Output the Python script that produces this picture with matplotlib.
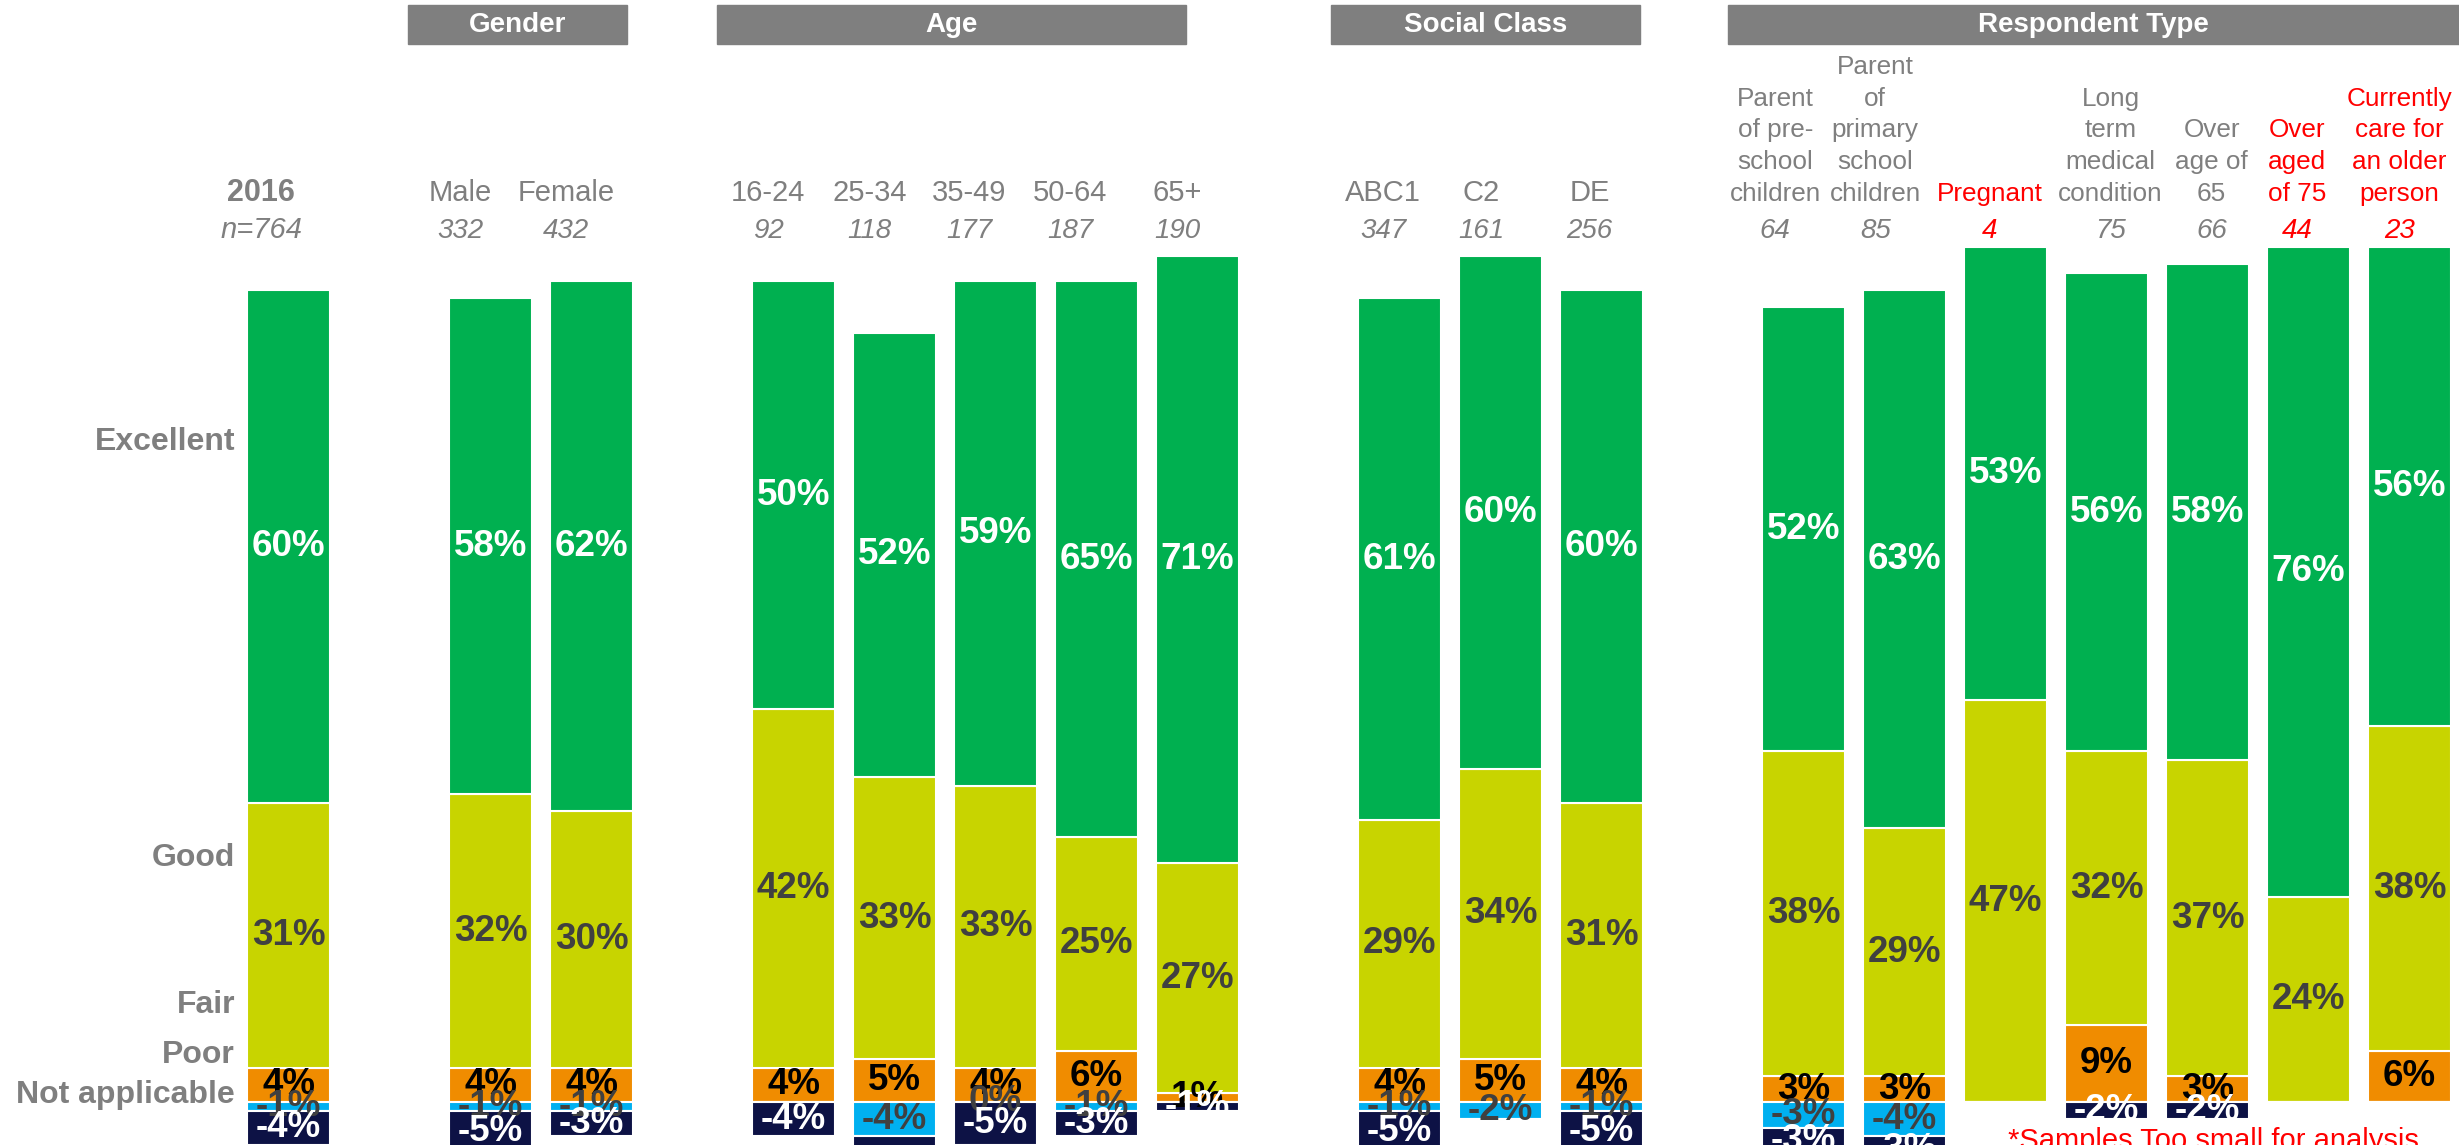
import numpy as np
import matplotlib
matplotlib.use("Agg")
import matplotlib.pyplot as plt

plt.rcParams["font.family"] = ["Liberation Sans", "DejaVu Sans"]

# slot index of each bar (gaps between groups)
positions = [0, 2, 3, 5, 6, 7, 8, 9, 11, 12, 13, 15, 16, 17, 18, 19, 20, 21]
categories = ["2016", "Male", "Female", "16-24", "25-34", "35-49", "50-64", "65+",
              "ABC1", "C2", "DE",
              "Parent\nof pre-\nschool\nchildren", "Parent\nof\nprimary\nschool\nchildren",
              "Pregnant", "Long\nterm\nmedical\ncondition", "Over\nage of\n65",
              "Over\naged\nof 75", "Currently\ncare for\nan older\nperson"]
bases = ["n=764", "332", "432", "92", "118", "177", "187", "190",
         "347", "161", "256", "64", "85", "4", "75", "66", "44", "23"]
small_sample = [False] * 13 + [True, False, False, True, True]

excellent = [60, 58, 62, 50, 52, 59, 65, 71, 61, 60, 60, 52, 63, 53, 56, 58, 76, 56]
good = [31, 32, 30, 42, 33, 33, 25, 27, 29, 34, 31, 38, 29, 47, 32, 37, 24, 38]
fair = [4, 4, 4, 4, 5, 4, 6, 1, 4, 5, 4, 3, 3, 0, 9, 3, 0, 6]
# None = no answer in this bar (no segment, no label)
poor = [-1, -1, -1, None, -4, 0, -1, None, -1, -2, -1, -3, -4, None, None, None, None, None]
not_applicable = [-4, -5, -3, -4, -6, -5, -3, -1, -5, None, -5, -3, -3, None, -2, -2, None, None]

groups = ["Gender", "Age", "Social Class", "Respondent Type"]
group_spans = [(1.18, 3.35), (4.24, 8.89), (10.32, 13.38), (14.25, 21.6)]

row_labels = ["Excellent", "Good", "Fair", "Poor", "Not applicable"]
row_label_y = [77.2, 28.5, 11.3, 5.5, 0.8]

# header text boxes sit a little off the bar centres in the original
label_shift = [-0.27, -0.30, -0.25, -0.25, -0.25, -0.26, -0.26, -0.20,
               -0.16, -0.19, -0.12, -0.28, -0.29, -0.16, 0.04, 0.04, -0.11, -0.10]
label_size = [22] + [21] * 10 + [18.8] * 7

C_EXC = "#00B050"
C_GOOD = "#C8D400"
C_FAIR = "#F08C00"
C_POOR = "#00B0F0"
C_NA = "#0D1245"
GREY = "#7F7F7F"
RED = "#FF0000"

fig = plt.figure(figsize=(24.59, 11.45), dpi=100)
ax = fig.add_axes([0, 0, 1, 1])
ax.set_xlim(-2.857, 21.49)
ax.set_ylim(-5.03, 128.9)
ax.axis("off")

x = np.array(positions, dtype=float)
w = 0.82
fair_a = np.array(fair, dtype=float)
good_a = np.array(good, dtype=float)
exc_a = np.array(excellent, dtype=float)
poor_a = np.array([p if p is not None else 0 for p in poor], dtype=float)
na_a = np.array([p if p is not None else 0 for p in not_applicable], dtype=float)

kw = dict(width=w, edgecolor="white", linewidth=1.5)
ax.bar(x, fair_a, color=C_FAIR, **kw)
ax.bar(x, good_a, bottom=fair_a, color=C_GOOD, **kw)
ax.bar(x, exc_a, bottom=fair_a + good_a, color=C_EXC, **kw)
ax.bar(x, poor_a, color=C_POOR, **kw)
ax.bar(x, na_a, bottom=poor_a, color=C_NA, **kw)

vfont = dict(fontsize=26.5, fontweight="bold", ha="center", va="center")
for i, xi in enumerate(x):
    if fair[i]:
        ax.text(xi, fair[i] / 2, f"{fair[i]}%", color="black", **vfont)
    ax.text(xi, fair[i] + good[i] / 2, f"{good[i]}%", color="#404040", **vfont)
    ax.text(xi, fair[i] + good[i] + excellent[i] / 2, f"{excellent[i]}%", color="white", **vfont)
    if poor[i] is not None:
        ax.text(xi, poor[i] / 2, f"{poor[i]}%", color="#404040", **vfont)
    if not_applicable[i] is not None:
        ax.text(xi, poor_a[i] + not_applicable[i] / 2, f"{not_applicable[i]}%",
                color="white", **vfont)

# column headers
step = 3.71
for i, xi in enumerate(x):
    col = RED if small_sample[i] else GREY
    xl = xi + label_shift[i]
    lines = categories[i].split("\n")
    for j, line in enumerate(lines):
        yy = 105.4 + (len(lines) - 1 - j) * step
        ax.text(xl, yy, line, fontsize=label_size[i], color=col,
                ha="center", va="baseline", fontweight="bold" if i == 0 else "normal")
    ax.text(xl, 101.05, bases[i], fontsize=21 if i == 0 else 20, color=col,
            ha="center", va="baseline", style="italic")

# group header boxes
for name, (x0, x1) in zip(groups, group_spans):
    ax.add_patch(plt.Rectangle((x0, 123.7), x1 - x0, 4.6, color=GREY, clip_on=False))
    ax.text((x0 + min(x1, 21.49)) / 2, 126.0, name, fontsize=20, fontweight="bold",
            color="white", ha="center", va="center")

for lab, yy in zip(row_labels, row_label_y):
    ax.text(-0.53, yy, lab, fontsize=23, fontweight="bold", color=GREY,
            ha="right", va="center")

ax.text(17.02, -5.5, "*Samples Too small for analysis", fontsize=21, color=RED,
        ha="left", va="baseline")

fig.savefig("out.png", dpi=100)
